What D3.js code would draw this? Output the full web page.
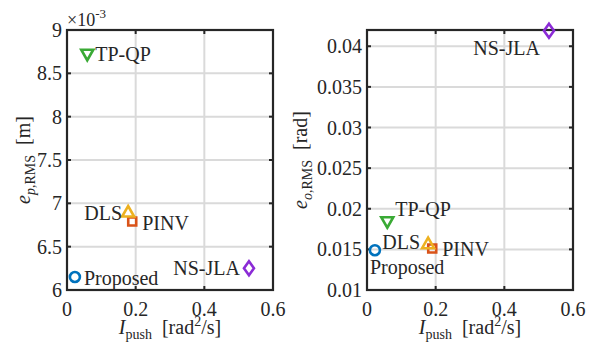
<!DOCTYPE html>
<html>
<head>
<meta charset="utf-8">
<script src="https://cdn.jsdelivr.net/npm/d3@7"></script>
<style>
  @font-face { font-family: "ChartSerif"; src: local("Liberation Serif"), local("LiberationSerif"), local("LiberationSerif-Regular"); font-style: normal; }
  @font-face { font-family: "ChartSerif"; src: local("Liberation Serif Italic"), local("LiberationSerif-Italic"); font-style: italic; }
</style>
</head>
<body style="margin:0; background:#fff">
<svg id="chart" width="602" height="345"></svg>
<script>
// Data
const methods = ["PINV", "DLS", "TP-QP", "NS-JLA", "Proposed"];
const pushIndex = [0.19, 0.178, 0.059, 0.53, 0.023];
const posErr = [6.79, 6.9, 8.72, 6.25, 6.15]; // x1e-3 m
const oriErr = [0.0151, 0.0157, 0.0184, 0.0419, 0.0149];
const colors = ["#d95319", "#edb120", "#3aaa35", "#8b2bd6", "#0072bd"];
const shapes = ["square", "triangleUp", "triangleDown", "diamond", "circle"];

const xTicks = [0, 0.2, 0.4, 0.6];
const posTicks = [6, 6.5, 7, 7.5, 8, 8.5, 9];
const oriTicks = [0.01, 0.015, 0.02, 0.025, 0.03, 0.035, 0.04];

// label placement per point: [dx, dy, anchor]
const posLabels = [[10, 8, "start"], [-6, 8, "end"], [8, 7, "start"], [-9, 7, "end"], [9, 8, "start"]];
const oriLabels = [[10, 7, "start"], [-8, 5, "end"], [8, -6, "start"], [-9, 24, "end"], [-5, 24, "start"]];

const INK = "#262626";
const svg = d3.select("#chart");

const addText = (sel) => sel.append("text")
  .style("font-family", "'Liberation Serif', ChartSerif")
  .attr("fill", INK).attr("font-size", 20);

const markerPath = (shape) => {
  switch (shape) {
    case "circle": return "M5,0A5,5 0 1,1 -5,0A5,5 0 1,1 5,0Z";
    case "square": return "M-4,-4H4V4H-4Z";
    case "triangleUp": return "M0,-6L6,4.5H-6Z";
    case "triangleDown": return "M0,6L6,-4.5H-6Z";
    case "diamond": return "M0,-7L5,0L0,7L-5,0Z";
  }
};

function drawPanel(opts) {
  const { left, right, top, bottom, yDomain, yTicks, values, labels } = opts;
  const x = d3.scaleLinear().domain([0, 0.6]).range([left, right]);
  const y = d3.scaleLinear().domain(yDomain).range([bottom, top]);
  const g = svg.append("g");

  // grid
  g.selectAll(".gx").data(xTicks).enter().append("line")
    .attr("x1", d => x(d)).attr("x2", d => x(d))
    .attr("y1", top).attr("y2", bottom)
    .attr("stroke", "#dadada").attr("stroke-width", 2);
  g.selectAll(".gy").data(yTicks).enter().append("line")
    .attr("x1", left).attr("x2", right)
    .attr("y1", d => y(d)).attr("y2", d => y(d))
    .attr("stroke", "#dadada").attr("stroke-width", 2);

  // tick marks (inward, all four sides)
  const tl = 4;
  xTicks.forEach(t => {
    g.append("line").attr("x1", x(t)).attr("x2", x(t)).attr("y1", bottom).attr("y2", bottom - tl)
      .attr("stroke", INK).attr("stroke-width", 2);
    g.append("line").attr("x1", x(t)).attr("x2", x(t)).attr("y1", top).attr("y2", top + tl)
      .attr("stroke", INK).attr("stroke-width", 2);
  });
  yTicks.forEach(t => {
    g.append("line").attr("x1", left).attr("x2", left + tl).attr("y1", y(t)).attr("y2", y(t))
      .attr("stroke", INK).attr("stroke-width", 2);
    g.append("line").attr("x1", right).attr("x2", right - tl).attr("y1", y(t)).attr("y2", y(t))
      .attr("stroke", INK).attr("stroke-width", 2);
  });

  // box
  g.append("rect").attr("x", left).attr("y", top)
    .attr("width", right - left).attr("height", bottom - top)
    .attr("fill", "none").attr("stroke", INK).attr("stroke-width", 2.2);

  // tick labels
  xTicks.forEach(t => {
    addText(g).attr("x", x(t)).attr("y", bottom + 26)
      .attr("text-anchor", "middle").text(d3.format("")(t));
  });
  yTicks.forEach(t => {
    addText(g).attr("x", left - 5).attr("y", y(t) + 7)
      .attr("text-anchor", "end").text(d3.format("")(t));
  });

  // x label
  const xl = addText(g).attr("x", (left + right) / 2).attr("y", bottom + 44)
    .attr("text-anchor", "middle");
  xl.append("tspan").attr("font-style", "italic").text("I");
  xl.append("tspan").attr("font-size", 14).attr("dy", 5).text("push");
  xl.append("tspan").attr("dy", -5).text("\u2002[rad");
  xl.append("tspan").attr("font-size", 14).attr("dy", -8).text("2");
  xl.append("tspan").attr("dy", 8).text("/s]");

  // data points
  values.forEach((v, i) => {
    g.append("path")
      .attr("d", markerPath(shapes[i]))
      .attr("transform", `translate(${x(pushIndex[i])},${y(v)})`)
      .attr("fill", "none").attr("stroke", colors[i]).attr("stroke-width", 2.6);
  });
  values.forEach((v, i) => {
    const [dx, dy, anchor] = labels[i];
    addText(g)
      .attr("x", x(pushIndex[i]) + dx).attr("y", y(v) + dy)
      .attr("text-anchor", anchor)
      .text(methods[i]);
  });
  return g;
}

drawPanel({
  left: 67, right: 273, top: 30, bottom: 290,
  yDomain: [6, 9], yTicks: posTicks,
  values: posErr, labels: posLabels
});
drawPanel({
  left: 367, right: 573, top: 30, bottom: 290,
  yDomain: [0.01, 0.042], yTicks: oriTicks,
  values: oriErr, labels: oriLabels
});

// exponent
const ex = addText(svg).attr("x", 67).attr("y", 26).attr("font-size", 18);
ex.append("tspan").text("\u00d710");
ex.append("tspan").attr("font-size", 13).attr("dy", -8).text("-3");

// y labels
function yLabel(cx, cy, sub, unit) {
  const t = addText(svg)
    .attr("transform", `translate(${cx},${cy}) rotate(-90)`)
    .attr("text-anchor", "middle");
  t.append("tspan").attr("font-style", "italic").text("e");
  t.append("tspan").attr("font-size", 14).attr("dy", 5).attr("font-style", "italic").text(sub);
  t.append("tspan").attr("font-size", 14).text(",RMS");
  t.append("tspan").attr("dy", -5).text("\u2002[" + unit + "]");
}
yLabel(30, 160, "p", "m");
yLabel(307, 160, "o", "rad");
</script>
</body>
</html>
